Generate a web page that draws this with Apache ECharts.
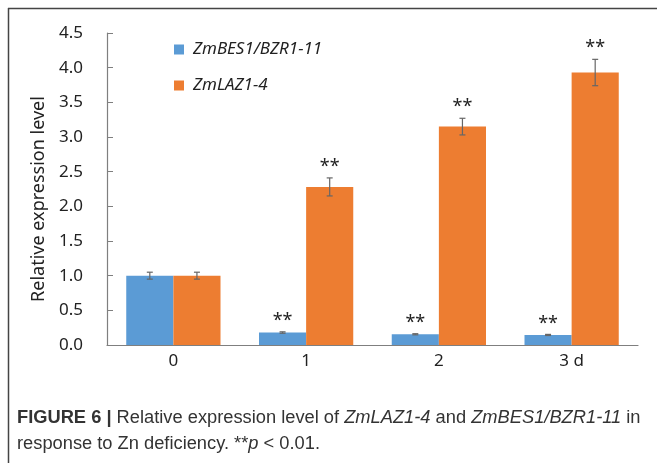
<!DOCTYPE html>
<html>
<head>
<meta charset="utf-8">
<script src="https://cdn.jsdelivr.net/npm/echarts@6/dist/echarts.min.js"></script>
<style>
  html, body { margin: 0; padding: 0; background: #fff; }
  #chart { width: 657px; height: 463px; }
</style>
</head>
<body>
<div id="chart"></div>
<script>
const categories = ['0', '1', '2', '3 d']
const besValues = [1.0, 0.18, 0.155, 0.145]
const besErrors = [0.05, 0.01, 0.008, 0.008]
const lazValues = [1.0, 2.28, 3.15, 3.93]
const lazErrors = [0.05, 0.13, 0.12, 0.19]
const besSig = ['', '**', '**', '**']
const lazSig = ['', '**', '**', '**']
const yTicks = [0, 0.5, 1.0, 1.5, 2.0, 2.5, 3.0, 3.5, 4.0, 4.5]

const BLUE = '#5b9bd5'
const ORANGE = '#ed7d31'
const CAT_GAP = 0.29

function errorSeries(name, values, errors, sig, side) {
  return {
    name: name + ' err',
    type: 'custom',
    silent: true,
    z: 5,
    data: values.map((v, i) => [i, v, errors[i], sig[i]]),
    encode: { x: 0, y: 1 },
    renderItem(params, api) {
      const i = api.value(0)
      const v = api.value(1)
      const e = api.value(2)
      const band = api.size([1, 0])[0]
      const barW = band * (1 - CAT_GAP) / 2
      const x = api.coord([i, v])[0] + side * barW / 2
      const yHi = api.coord([i, v + e])[1]
      const yLo = api.coord([i, v - e])[1]
      const style = { stroke: '#666', lineWidth: 1.2 }
      const children = [
        { type: 'line', shape: { x1: x, y1: yHi, x2: x, y2: yLo }, style },
        { type: 'line', shape: { x1: x - 3, y1: yHi, x2: x + 3, y2: yHi }, style },
        { type: 'line', shape: { x1: x - 3, y1: yLo, x2: x + 3, y2: yLo }, style },
      ]
      const s = sig[i]
      if (s) {
        children.push({
          type: 'text',
          style: {
            text: s, x: x, y: yHi - 2,
            textAlign: 'center', textVerticalAlign: 'bottom',
            font: '18px "Noto Sans"', fill: '#222',
          },
        })
      }
      return { type: 'group', children }
    },
  }
}

const chart = echarts.init(document.getElementById('chart'))
chart.setOption({
  backgroundColor: '#fff',
  animation: false,
  grid: { left: 107, right: 19, top: 33, bottom: 118 },
  legend: {
    left: 169, top: 36,
    orient: 'vertical',
    itemGap: 19,
    itemWidth: 10, itemHeight: 10,
    icon: 'rect',
    data: ['ZmBES1/BZR1-11', 'ZmLAZ1-4'],
    textStyle: { fontFamily: 'Noto Sans', fontStyle: 'italic', fontSize: 17, color: '#222', padding: [0, 0, 0, 4] },
  },
  xAxis: {
    type: 'category',
    data: categories,
    axisLine: { lineStyle: { color: '#7f7f7f', width: 1.2 } },
    axisTick: { show: false },
    axisLabel: { color: '#222', fontSize: 17, fontFamily: 'Noto Sans', margin: 8 },
  },
  yAxis: {
    type: 'value',
    min: 0, max: 4.5, interval: 0.5,
    name: 'Relative expression level',
    nameLocation: 'middle',
    nameGap: 59,
    nameTextStyle: { color: '#222', fontSize: 18, fontFamily: 'Noto Sans', padding: [0, 20, 0, 0] },
    axisLine: { show: true, lineStyle: { color: '#7f7f7f', width: 1.2 } },
    axisTick: { show: true, inside: true, length: 6, lineStyle: { color: '#7f7f7f' } },
    splitLine: { show: false },
    axisLabel: {
      color: '#222', fontSize: 17, fontFamily: 'Noto Sans', margin: 24,
      formatter: (v) => yTicks.includes(v) ? v.toFixed(1) : '',
    },
  },
  series: [
    {
      name: 'ZmBES1/BZR1-11', type: 'bar', data: besValues,
      itemStyle: { color: BLUE }, barGap: 0, barCategoryGap: (CAT_GAP * 100) + '%',
    },
    {
      name: 'ZmLAZ1-4', type: 'bar', data: lazValues,
      itemStyle: { color: ORANGE }, barGap: 0, barCategoryGap: (CAT_GAP * 100) + '%',
    },
    errorSeries('ZmBES1/BZR1-11', besValues, besErrors, besSig, -1),
    errorSeries('ZmLAZ1-4', lazValues, lazErrors, lazSig, 1),
  ],
  graphic: [
    { type: 'line', shape: { x1: 8, y1: 8.5, x2: 657, y2: 8.5 }, style: { stroke: '#444', lineWidth: 1.5 } },
    { type: 'line', shape: { x1: 8.5, y1: 8, x2: 8.5, y2: 463 }, style: { stroke: '#444', lineWidth: 1.5 } },
    {
      type: 'text', left: 17, top: 405,
      style: {
        text: '{b|FIGURE 6 |} Relative expression level of {i|ZmLAZ1-4} and {i|ZmBES1/BZR1-11} in\nresponse to Zn deficiency. **{i|p} < 0.01.',
        font: '18.3px "Liberation Sans"',
        fill: '#333', lineHeight: 26,
        rich: {
          b: { fontWeight: 'bold', fontSize: 18.3, fontFamily: 'Liberation Sans', fill: '#333', lineHeight: 26 },
          i: { fontStyle: 'italic', fontSize: 18.3, fontFamily: 'Liberation Sans', fill: '#333', lineHeight: 26 },
        },
      },
    },
  ],
})
</script>
</body>
</html>
